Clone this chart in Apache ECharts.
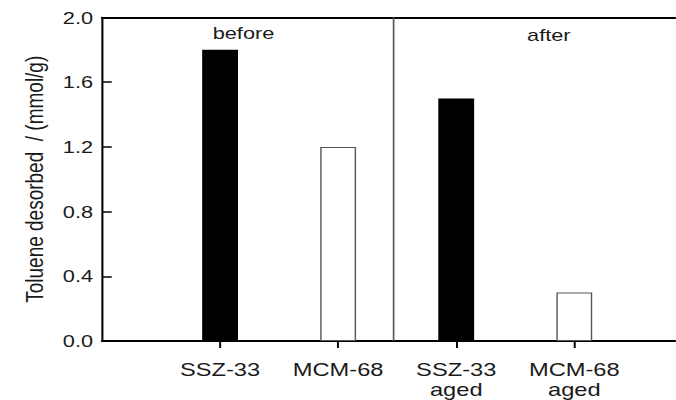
<!DOCTYPE html>
<html>
<head>
<meta charset="utf-8">
<script src="https://cdn.jsdelivr.net/npm/echarts@6/dist/echarts.min.js"></script>
<style>
  html, body { margin: 0; padding: 0; background: #fff; overflow: hidden; }
  /* the figure is drawn narrow and widened horizontally, as in the printed figure */
  #chart { width: 528px; height: 400px; transform: scaleX(1.28); transform-origin: 0 0; }
</style>
</head>
<body>
<div id="chart"></div>
<script>
// Toluene desorbed before / after ageing
const categories = ['SSZ-33', 'MCM-68', 'SSZ-33\naged', 'MCM-68\naged'];
const positions = [1, 2, 3, 4];
const desorbed = [1.8, 1.2, 1.5, 0.3];
const material = ['SSZ-33', 'MCM-68', 'SSZ-33', 'MCM-68'];
const yTicks = [0, 0.4, 0.8, 1.2, 1.6, 2.0];
const dividerAt = 2.47;
const sectionLabels = ['before', 'after'];

const FONT = '"Liberation Sans", Arial, sans-serif';

function pointsFor(name) {
  const out = [];
  positions.forEach((p, i) => { if (material[i] === name) out.push([p, desorbed[i]]); });
  return out;
}

const chart = echarts.init(document.getElementById('chart'), null, { renderer: 'svg' });

chart.setOption({
  animation: false,
  backgroundColor: '#fff',
  grid: { left: 79.7, right: 0, top: 17.5, bottom: 59, containLabel: false },
  xAxis: [{
    type: 'value', min: 0, max: 4.86,
    axisLine: { show: true, lineStyle: { color: '#000', width: 2 } },
    axisTick: { show: true, customValues: positions, length: 7, lineStyle: { color: '#000', width: 1.5 } },
    axisLabel: {
      customValues: positions,
      formatter: v => categories[positions.indexOf(v)],
      fontFamily: FONT, fontSize: 18.5, color: '#1a1a1a', margin: 19.5, lineHeight: 19.5
    },
    splitLine: { show: false }
  }, {
    type: 'value', min: 0, max: 4.86, position: 'top',
    axisLine: { show: true, onZero: false, lineStyle: { color: '#000', width: 2 } },
    axisTick: { show: false }, axisLabel: { show: false }, splitLine: { show: false }
  }],
  yAxis: {
    type: 'value', min: yTicks[0], max: yTicks[yTicks.length - 1], interval: 0.4,
    name: 'Toluene desorbed  / (mmol/g)',
    nameLocation: 'middle', nameGap: 43,
    nameTextStyle: { fontFamily: FONT, fontSize: 19, color: '#1a1a1a' },
    axisLine: { show: true, lineStyle: { color: '#000', width: 1.6 } },
    axisTick: { show: true, inside: true, length: 7.6, lineStyle: { color: '#000', width: 1.5 } },
    axisLabel: {
      formatter: v => v.toFixed(1),
      fontFamily: FONT, fontSize: 17, color: '#1a1a1a', margin: 7
    },
    splitLine: { show: false }
  },
  series: [{
    name: 'SSZ-33', type: 'bar', xAxisIndex: 0,
    data: pointsFor('SSZ-33'),
    barWidth: 28, barGap: '-100%',
    itemStyle: { color: '#000', borderColor: '#000', borderWidth: 0 },
    markLine: {
      silent: true, symbol: 'none', label: { show: false },
      lineStyle: { color: '#555', width: 1.3, type: 'solid' },
      data: [{ xAxis: dividerAt }]
    }
  }, {
    name: 'MCM-68', type: 'bar', xAxisIndex: 0,
    data: pointsFor('MCM-68'),
    barWidth: 28, barGap: '-100%',
    itemStyle: { color: '#fff', borderColor: '#555', borderWidth: 1.1 }
  }]
});

// section captions above each half of the plot
function placeCaptions() {
  const left = chart.convertToPixel({ xAxisIndex: 0 }, 0);
  const mid = chart.convertToPixel({ xAxisIndex: 0 }, dividerAt);
  const right = chart.convertToPixel({ xAxisIndex: 0 }, 4.86);
  const top = chart.convertToPixel({ yAxisIndex: 0 }, 2.0);
  chart.setOption({
    graphic: [
      { type: 'text', x: (left + mid) / 2 - 3.4, y: top + 15.5,
        style: { text: sectionLabels[0], fontFamily: FONT, fontSize: 17, fill: '#1a1a1a', align: 'center', verticalAlign: 'middle' } },
      { type: 'text', x: (mid + right) / 2 + 11, y: top + 17.5,
        style: { text: sectionLabels[1], fontFamily: FONT, fontSize: 17, fill: '#1a1a1a', align: 'center', verticalAlign: 'middle' } }
    ]
  });
}
placeCaptions();
</script>
</body>
</html>
